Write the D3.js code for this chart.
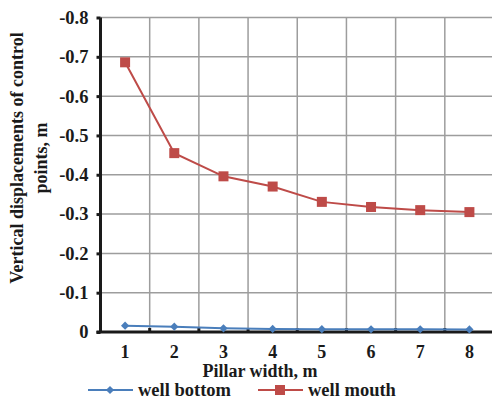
<!DOCTYPE html>
<html><head><meta charset="utf-8">
<script src="https://cdn.jsdelivr.net/npm/d3@7"></script>
<style>
html,body{margin:0;padding:0;background:#fff;}
svg{display:block;font-family:"Liberation Serif","Times New Roman",serif;font-weight:bold;}
</style></head>
<body>
<script>
const categories = [1, 2, 3, 4, 5, 6, 7, 8];
const wellBottom = [-0.016, -0.0135, -0.0095, -0.0078, -0.0072, -0.007, -0.007, -0.0065];
const wellMouth = [-0.686, -0.455, -0.396, -0.370, -0.331, -0.318, -0.310, -0.305];
const yTicks = [0, -0.1, -0.2, -0.3, -0.4, -0.5, -0.6, -0.7, -0.8];
const seriesNames = ["well bottom", "well mouth"];

(function(){
const W = 492, H = 399;
const pL = 100.5, pR = 494, pT = 17.5, pB = 332;
const FONT = "'Liberation Serif', 'Times New Roman', serif";
const ink = "#1a1a1a";

const svg = d3.select("body").append("svg").attr("width", W).attr("height", H);

const x = d3.scaleBand().domain(categories).range([pL, pR]).padding(0);
const y = d3.scaleLinear().domain([0, -0.8]).range([pB, pT]);

// gridlines
const g = svg.append("g");
g.selectAll(".hg").data(yTicks.filter(d => d !== 0)).enter().append("line")
  .attr("x1", pL).attr("x2", pR)
  .attr("y1", d => y(d)).attr("y2", d => y(d))
  .attr("stroke", "#9d9d9d").attr("stroke-width", 1.5);
g.selectAll(".vg").data(categories.slice(1)).enter().append("line")
  .attr("x1", d => x(d)).attr("x2", d => x(d))
  .attr("y1", pT).attr("y2", pB)
  .attr("stroke", "#9d9d9d").attr("stroke-width", 1.5);

// y axis
const yAxis = d3.axisLeft(y).tickValues(yTicks)
  .tickFormat(d => d === 0 ? "0" : d3.format(".1f")(d).replace("−", "-"))
  .tickSize(4).tickPadding(8);
const ya = svg.append("g").attr("transform", `translate(${pL},0)`).call(yAxis)
  .attr("font-family", null).attr("font-size", null);
ya.select(".domain").attr("stroke", ink).attr("stroke-width", 3).attr("d", `M0,${pT}V${pB}`);
ya.selectAll(".tick line").attr("stroke", ink).attr("stroke-width", 3);
ya.selectAll("text").style("font-size", "18.5px").style("font-weight", "bold")
  .style("font-family", FONT).attr("fill", ink);

// x axis
const xAxis = d3.axisBottom(x).tickSize(0).tickPadding(13);
const xa = svg.append("g").attr("transform", `translate(0,${pB})`).call(xAxis)
  .attr("font-family", null).attr("font-size", null);
xa.select(".domain").attr("d", `M${pL-4},0H${pR}`).attr("stroke", ink).attr("stroke-width", 3);
xa.selectAll("text").style("font-size", "18px").style("font-weight", "bold")
  .style("font-family", FONT).attr("fill", ink);
svg.append("g").selectAll("line").data(categories.slice(1)).enter().append("line")
  .attr("x1", d => x(d)).attr("x2", d => x(d))
  .attr("y1", pB - 4).attr("y2", pB)
  .attr("stroke", ink).attr("stroke-width", 3);

// axis titles
svg.append("text").attr("x", 260).attr("y", 377)
  .attr("text-anchor", "middle").style("font-size", "18px").style("font-family", FONT).attr("fill", ink)
  .text("Pillar width, m");
const yt = svg.append("text").attr("transform", "translate(0,158) rotate(-90)")
  .attr("text-anchor", "middle").style("font-size", "18px").style("font-family", FONT).attr("fill", ink);
yt.append("tspan").attr("x", 0).attr("y", 23).text("Vertical displacements of control");
yt.append("tspan").attr("x", 0).attr("y", 47).text("points, m");

// series
const cx = c => x(c) + x.bandwidth() / 2;
const line = d3.line().x((d, i) => cx(categories[i])).y(d => y(d));
const blue = "#4a7ebb", red = "#be4b48";
const diamond = d3.symbol().type(d3.symbolSquare).size(34);

svg.append("path").datum(wellBottom).attr("d", line).attr("fill", "none")
  .attr("stroke", blue).attr("stroke-width", 2);
svg.append("g").selectAll("path").data(wellBottom).enter().append("path")
  .attr("d", diamond)
  .attr("transform", (d, i) => `translate(${cx(categories[i])},${y(d)}) rotate(45)`)
  .attr("fill", blue);

svg.append("path").datum(wellMouth).attr("d", line).attr("fill", "none")
  .attr("stroke", red).attr("stroke-width", 2);
svg.append("g").selectAll("rect").data(wellMouth).enter().append("rect")
  .attr("x", (d, i) => cx(categories[i]) - 5).attr("y", d => y(d) - 5)
  .attr("width", 10).attr("height", 10).attr("fill", red);

// legend
const legend = [
  {name: seriesNames[0], color: blue, x0: 88, sym: "d"},
  {name: seriesNames[1], color: red, x0: 258, sym: "s"}
];
const ly = 390;
legend.forEach(l => {
  svg.append("line").attr("x1", l.x0).attr("x2", l.x0 + 45).attr("y1", ly).attr("y2", ly)
    .attr("stroke", l.color).attr("stroke-width", 2);
  if (l.sym === "d") {
    svg.append("path").attr("d", diamond)
      .attr("transform", `translate(${l.x0 + 22},${ly}) rotate(45)`).attr("fill", l.color);
  } else {
    svg.append("rect").attr("x", l.x0 + 17).attr("y", ly - 5).attr("width", 10).attr("height", 10)
      .attr("fill", l.color);
  }
  svg.append("text").attr("x", l.x0 + 50).attr("y", ly + 6).style("font-size", "18.5px").style("font-family", FONT)
    .attr("fill", ink).text(l.name);
});
})();
</script>
</body></html>
